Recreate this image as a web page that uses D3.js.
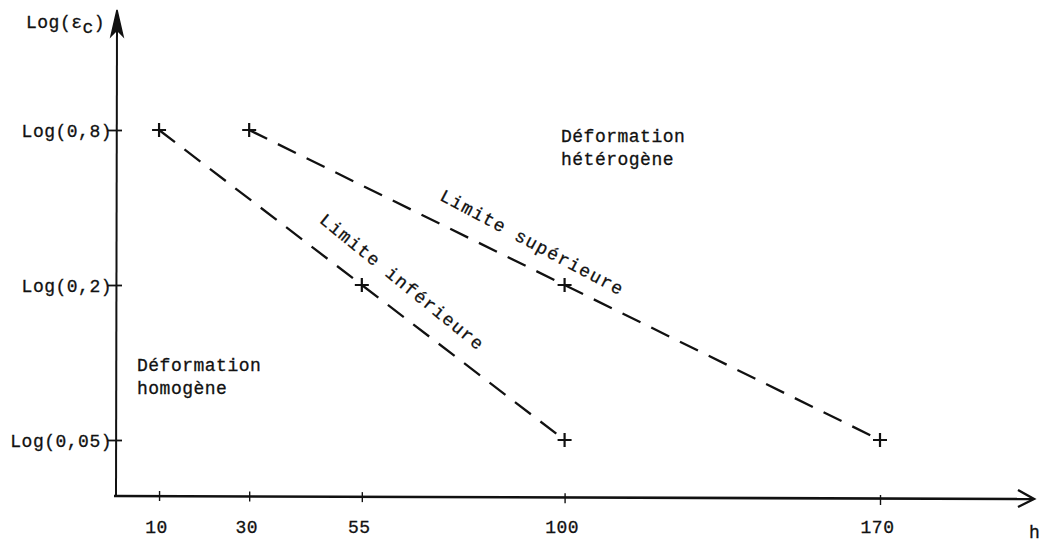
<!DOCTYPE html>
<html>
<head>
<meta charset="utf-8">
<script src="https://cdn.jsdelivr.net/npm/d3@7"></script>
<style>
  html, body { margin: 0; padding: 0; background: #fff; overflow: hidden; }
  svg text { font-family: "Liberation Mono", "Courier New", monospace; font-size: 18px; fill: #111; stroke: #111; stroke-width: 0.3px; letter-spacing: 0.5px; }
</style>
</head>
<body>
<svg id="chart" width="1042" height="542"></svg>
<script>
// h values on the horizontal axis
const xTicks = [10, 30, 55, 100, 170];
// critical strain levels on the vertical (log) axis
const yTicks = [0.8, 0.2, 0.05];

// lower boundary of the transition zone
const lowerH = [10, 55, 100];
const lowerEps = [0.8, 0.2, 0.05];
// upper boundary of the transition zone
const upperH = [30, 100, 170];
const upperEps = [0.8, 0.2, 0.05];

const svg = d3.select("#chart");
const ink = "#111";

const x = d3.scaleLinear().domain([0, 170]).range([114, 880]);
const y = d3.scaleLog().domain([0.05, 0.8]).range([440, 130]);

const axisY = 496;     // baseline of the h axis
const axisX = x(0);    // position of the strain axis

// ---- horizontal axis with open arrow
svg.append("line")
  .attr("x1", axisX).attr("y1", axisY).attr("x2", 1032).attr("y2", axisY + 3)
  .attr("stroke", ink).attr("stroke-width", 2.6);
svg.append("path")
  .attr("d", `M1018,${axisY - 6} L1034,${axisY + 3} L1018,${axisY + 11}`)
  .attr("fill", "none").attr("stroke", ink).attr("stroke-width", 2.4);

const gx = svg.append("g").attr("transform", `translate(0,${axisY - 5})`)
  .call(d3.axisBottom(x).tickValues(xTicks).tickSize(10).tickPadding(19).tickFormat(d3.format("d")));
gx.select(".domain").remove();
gx.selectAll(".tick line").attr("stroke", ink).attr("stroke-width", 1.4)
  .attr("transform", (d) => `translate(0,${(d - 10) / 160 * 4})`);
gx.selectAll(".tick text").attr("dx", -3).attr("font-size", null).attr("font-family", null)
  .attr("fill", null);

// ---- vertical axis with solid arrow
svg.append("line")
  .attr("x1", axisX + 2).attr("y1", axisY).attr("x2", axisX + 3).attr("y2", 22)
  .attr("stroke", ink).attr("stroke-width", 2);
svg.append("path")
  .attr("d", `M${axisX + 3},10 L${axisX + 9},36 L${axisX + 3},30 L${axisX - 3},36 Z`)
  .attr("fill", ink).attr("stroke", ink).attr("stroke-width", 1.5);

const gy = svg.append("g").attr("transform", `translate(${axisX + 8},0)`)
  .call(d3.axisLeft(y).tickValues(yTicks).tickSize(14).tickPadding(-4)
    .tickFormat((v) => `Log(${String(v).replace(".", ",")})`));
gy.select(".domain").remove();
gy.selectAll(".tick line").attr("stroke", ink).attr("stroke-width", 1.8);
gy.selectAll(".tick text").attr("font-size", null).attr("font-family", null).attr("fill", null)
  .attr("dy", "0.36em");

// axis titles
const yt = svg.append("text").attr("x", 26).attr("y", 28);
yt.append("tspan").text("Log(ε");
yt.append("tspan").attr("dy", 5).text("c");
yt.append("tspan").attr("dy", -5).text(")");
svg.append("text").attr("x", 1029).attr("y", 538).text("h");

// ---- boundary lines
const boundaries = [
  { h: lowerH, eps: lowerEps, label: "Limite inférieure", seg: 1, along: 30, off: 21, angle: 39 },
  { h: upperH, eps: upperEps, label: "Limite supérieure", seg: 1, along: -48, off: 18, angle: 28 }
];

const line = d3.line().x((d) => x(d[0])).y((d) => y(d[1]));

boundaries.forEach((b) => {
  const pts = b.h.map((h, i) => [h, b.eps[i]]);
  svg.append("path").datum(pts)
    .attr("d", line)
    .attr("fill", "none").attr("stroke", ink).attr("stroke-width", 2.3)
    .attr("stroke-dasharray", "20 12");

  // cross markers
  pts.forEach((p) => {
    const cx = x(p[0]), cy = y(p[1]);
    svg.append("path")
      .attr("d", `M${cx - 7},${cy} L${cx + 7},${cy} M${cx},${cy - 7} L${cx},${cy + 7}`)
      .attr("stroke", ink).attr("stroke-width", 2.2);
  });

  // label running along the boundary
  const ax = x(pts[b.seg][0]), ay = y(pts[b.seg][1]);
  const a = Math.atan2(y(pts[2][1]) - y(pts[0][1]), x(pts[2][0]) - x(pts[0][0]));
  const dx = Math.cos(a), dy = Math.sin(a);
  const lx = ax + dx * b.along + dy * b.off;
  const ly = ay + dy * b.along - dx * b.off;
  svg.append("text")
    .attr("transform", `translate(${lx},${ly}) rotate(${b.angle})`)
    .attr("text-anchor", "middle")
    .style("letter-spacing", "1.3px")
    .text(b.label);
});

// ---- region labels
const regions = [
  { lines: ["Déformation", "hétérogène"], x: 561, y: 142 },
  { lines: ["Déformation", "homogène"], x: 137, y: 371 }
];
regions.forEach((r) => {
  const t = svg.append("text").attr("x", r.x).attr("y", r.y);
  r.lines.forEach((s, i) => t.append("tspan").attr("x", r.x).attr("dy", i ? 23 : 0).text(s));
});
</script>
</body>
</html>
